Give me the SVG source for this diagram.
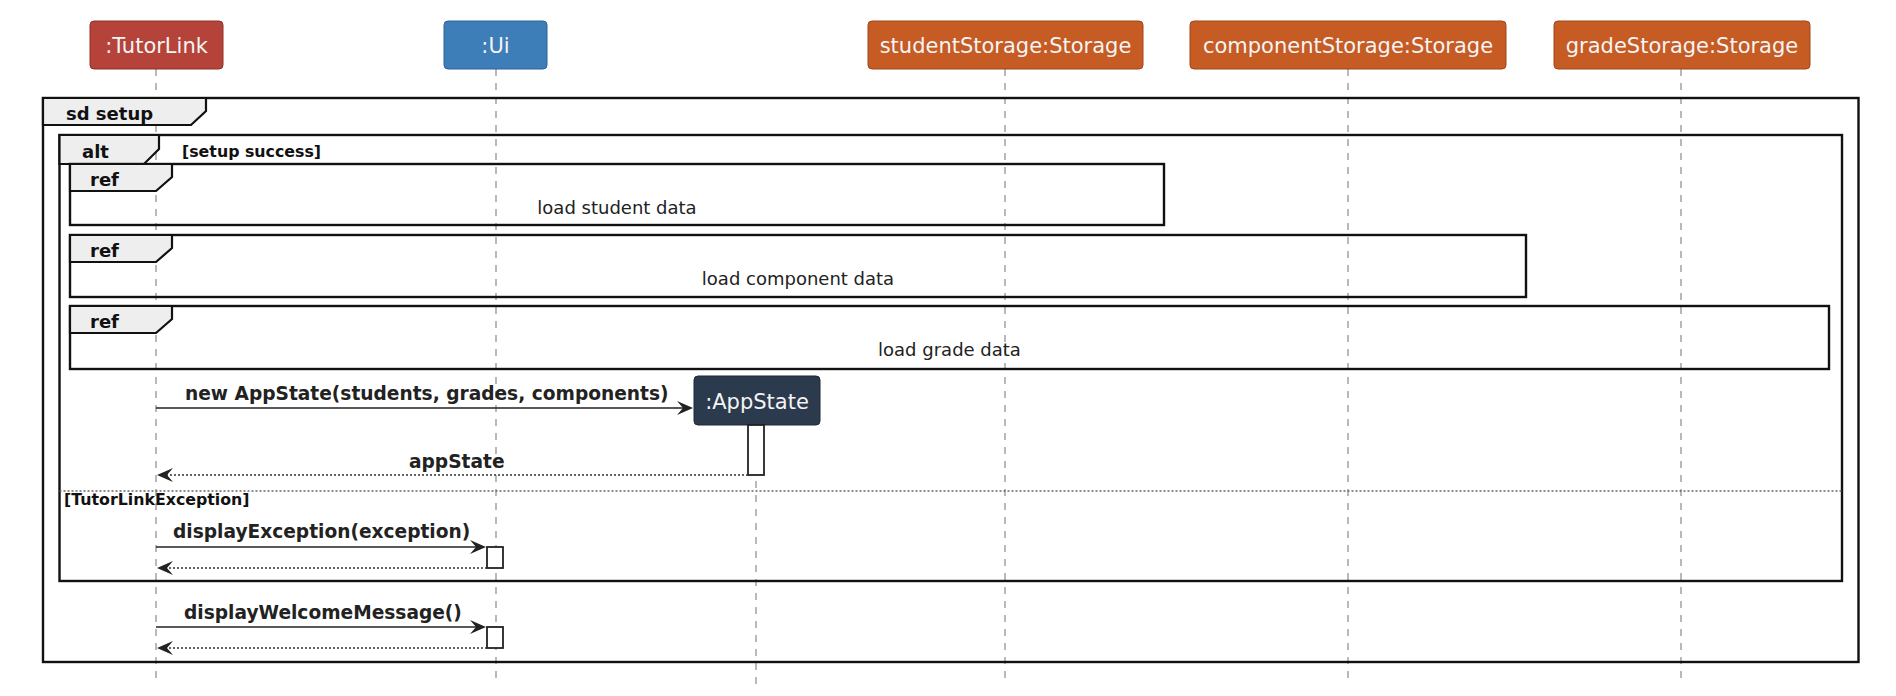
<svg xmlns="http://www.w3.org/2000/svg" width="1896" height="696" viewBox="0 0 1896 696">
<style>
.life{stroke:#8a8a8a;stroke-width:1.2;stroke-dasharray:7,7;fill:none}
.ptext{font-family:"DejaVu Sans",sans-serif;font-size:21px;fill:#f4f4f4;text-anchor:middle}
.frame{fill:none;stroke:#111;stroke-width:2.4}
.tab{fill:#eeeeee;stroke:#111;stroke-width:2.2}
.tabt{font-family:"DejaVu Sans",sans-serif;font-weight:bold;font-size:18px;fill:#111}
.guard{font-family:"DejaVu Sans",sans-serif;font-weight:bold;font-size:15.8px;fill:#111}
.reft{font-family:"DejaVu Sans",sans-serif;font-size:18px;fill:#222;text-anchor:middle}
.msg{stroke:#222;stroke-width:1.5;fill:none}
.ret{stroke:#333;stroke-width:1.4;stroke-dasharray:2,2;fill:none}
.head{fill:#222}
.mt{font-family:"DejaVu Sans",sans-serif;font-weight:bold;font-size:18.6px;fill:#222}
.act{fill:#fff;stroke:#222;stroke-width:1.8}
.sep{stroke:#666;stroke-width:1.4;stroke-dasharray:2,2;fill:none}
</style>
<rect width="1896" height="696" fill="#ffffff"/>
<g id="lifelines">
<line class="life" x1="156" y1="69" x2="156" y2="685"/>
<line class="life" x1="496" y1="69" x2="496" y2="685"/>
<line class="life" x1="1005" y1="69" x2="1005" y2="685"/>
<line class="life" x1="1348" y1="69" x2="1348" y2="685"/>
<line class="life" x1="1681" y1="69" x2="1681" y2="685"/>
<line class="life" x1="756" y1="425" x2="756" y2="685"/>
</g>
<g id="p-tutorlink">
<rect x="90" y="21" width="133" height="48" rx="4" fill="#b5433a" stroke="#8e3129"/>
<text class="ptext" x="156.5" y="53">:TutorLink</text>
</g>
<g id="p-ui">
<rect x="444" y="21" width="103" height="48" rx="4" fill="#3d7db8" stroke="#2d6396"/>
<text class="ptext" x="495.5" y="53">:Ui</text>
</g>
<g id="p-studentStorage">
<rect x="868" y="21" width="275" height="48" rx="4" fill="#c65b24" stroke="#a0461a"/>
<text class="ptext" x="1005.5" y="53">studentStorage:Storage</text>
</g>
<g id="p-componentStorage">
<rect x="1190" y="21" width="316" height="48" rx="4" fill="#c65b24" stroke="#a0461a"/>
<text class="ptext" x="1348" y="53">componentStorage:Storage</text>
</g>
<g id="p-gradeStorage">
<rect x="1554" y="21" width="256" height="48" rx="4" fill="#c65b24" stroke="#a0461a"/>
<text class="ptext" x="1682" y="53">gradeStorage:Storage</text>
</g>
<g id="frame-sd">
<rect class="frame" x="43" y="98" width="1815.5" height="564"/>
<polygon class="tab" points="43,98 206,98 206,111 191,125 43,125"/>
<text class="tabt" x="66" y="120">sd setup</text>
</g>
<g id="frame-alt">
<rect class="frame" x="59.5" y="135" width="1782.5" height="446"/>
<polygon class="tab" points="59.5,135 159,135 159,149 144,164 59.5,164"/>
<text class="tabt" x="82" y="158">alt</text>
<text class="guard" x="182" y="157">[setup success]</text>
<line class="sep" x1="59.5" y1="491" x2="1842" y2="491"/>
<text class="guard" x="64" y="505">[TutorLinkException]</text>
</g>
<g id="ref-student">
<rect class="frame" x="70" y="164" width="1094" height="61"/>
<polygon class="tab" points="70,164 172,164 172,177 156,191 70,191"/>
<text class="tabt" x="90" y="186">ref</text>
<text class="reft" x="617" y="214">load student data</text>
</g>
<g id="ref-component">
<rect class="frame" x="70" y="235" width="1456" height="62"/>
<polygon class="tab" points="70,235 172,235 172,248 156,262 70,262"/>
<text class="tabt" x="90" y="257">ref</text>
<text class="reft" x="798" y="285">load component data</text>
</g>
<g id="ref-grade">
<rect class="frame" x="70" y="306" width="1759" height="63"/>
<polygon class="tab" points="70,306 172,306 172,319 156,333 70,333"/>
<text class="tabt" x="90" y="328">ref</text>
<text class="reft" x="949.5" y="356">load grade data</text>
</g>
<g id="p-appstate">
<rect x="694" y="376" width="126" height="49" rx="4" fill="#2c3a4e" stroke="#1e2938"/>
<text class="ptext" x="757" y="409">:AppState</text>
</g>
<g id="activations">
<rect class="act" x="748" y="425" width="16" height="50"/>
<rect class="act" x="487" y="547" width="16" height="21"/>
<rect class="act" x="487" y="627" width="16" height="21"/>
</g>
<g id="connectors">
<line class="msg" x1="156" y1="408" x2="688" y2="408"/>
<polygon class="head" points="693,408 677,401 683,408 677,415"/>
<text class="mt" x="185" y="400">new AppState(students, grades, components)</text>
<line class="ret" x1="748" y1="475" x2="162" y2="475"/>
<polygon class="head" points="157,475 173,468 167,475 173,482"/>
<text class="mt" x="409" y="468">appState</text>
<line class="msg" x1="156" y1="547" x2="481" y2="547"/>
<polygon class="head" points="486,547 470,540 476,547 470,554"/>
<text class="mt" x="173" y="538">displayException(exception)</text>
<line class="ret" x1="487" y1="568" x2="162" y2="568"/>
<polygon class="head" points="157,568 173,561 167,568 173,575"/>
<line class="msg" x1="156" y1="627" x2="481" y2="627"/>
<polygon class="head" points="486,627 470,620 476,627 470,634"/>
<text class="mt" x="184" y="619">displayWelcomeMessage()</text>
<line class="ret" x1="487" y1="648" x2="162" y2="648"/>
<polygon class="head" points="157,648 173,641 167,648 173,655"/>
</g>
</svg>
